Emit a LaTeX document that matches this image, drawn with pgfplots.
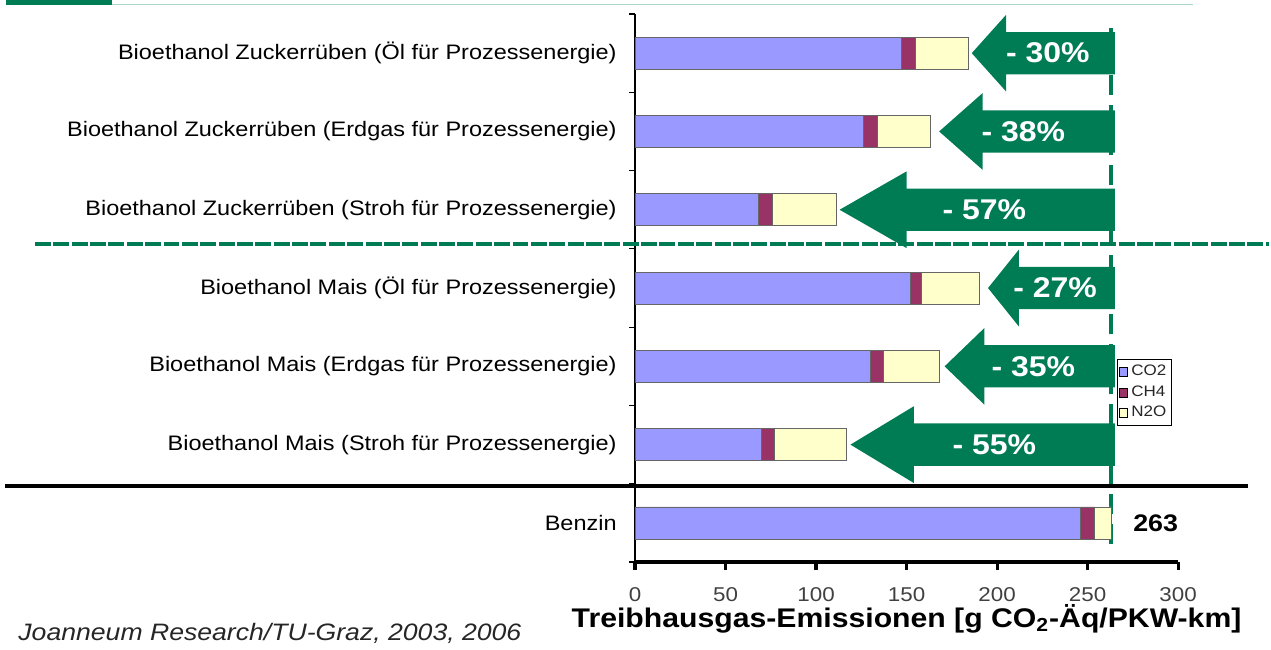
\documentclass[border=0pt]{standalone}
\usepackage{fontspec}
\setmainfont[FakeStretch=1.12]{Liberation Sans}
\usepackage{pgfplots}
\pgfplotsset{compat=1.18}
\definecolor{cotwo}{RGB}{153,153,255}
\definecolor{chfour}{RGB}{153,51,102}
\definecolor{ntwoo}{RGB}{255,255,204}
\definecolor{dgreen}{RGB}{0,124,84}
\definecolor{lgreen}{RGB}{170,214,196}
\pgfplotsset{
  smallbox legend/.style={legend image code/.code={\draw[##1, draw=black, line width=0.4pt] (0pt,-2.2pt) rectangle (3.6pt,2.2pt);}},
}
\tikzset{pct/.style={text=white, font=\fontsize{14.3}{16}\selectfont\bfseries}}
\begin{document}
\begin{tikzpicture}
\begin{axis}[
  scale only axis, width=272pt, height=274.5pt,
  xmin=0, xmax=300, ymin=-0.5, ymax=6.5,
  xbar stacked, bar width=16pt,
  axis x line*=bottom, axis y line*=left,
  x axis line style={line width=1.6pt},
  y axis line style={line width=0.6pt},
  xtick={0,50,...,300},
  xtick style={line width=1.6pt, black},
  ytick={0,...,6},
  yticklabels={Benzin,
    Bioethanol Mais (Stroh für Prozessenergie),
    Bioethanol Mais (Erdgas für Prozessenergie),
    Bioethanol Mais (Öl für Prozessenergie),
    Bioethanol Zuckerrüben (Stroh für Prozessenergie),
    Bioethanol Zuckerrüben (Erdgas für Prozessenergie),
    Bioethanol Zuckerrüben (Öl für Prozessenergie)},
  ytick style={draw=none},
  tick align=outside, major tick length=4pt,
  clip=false,
  /pgf/number format/assume math mode=true,
  x tick label style={font=\fontsize{10}{12}\selectfont, text=black!75, yshift=-5pt},
  y tick label style={font=\fontsize{10.5}{12}\selectfont, xshift=-1.7pt},
  xlabel={\bfseries Treibhausgas-Emissionen [g CO\textsubscript{2}-Äq/PKW-km]},
  xlabel style={font=\fontsize{13.5}{16}\selectfont, at={(axis description cs:0.5,0)}, anchor=center, yshift=-28.5pt},
  legend style={at={(axis cs:266.4,2.09)}, anchor=north west, font=\fontsize{7.6}{8}\selectfont,
    draw=black, line width=0.5pt, inner sep=0.8pt, row sep=-0.6pt, cells={anchor=west}, text=black!85},
  smallbox legend,
]
\addplot[fill=cotwo, draw=black!60, line width=0.4pt] coordinates {(246,0) (70,1) (130,2) (152,3) (68,4) (126,5) (147,6)};
\addplot[fill=chfour, draw=black!60, line width=0.4pt] coordinates {(8,0) (7,1) (7,2) (6,3) (8,4) (8,5) (8,6)};
\addplot[fill=ntwoo, draw=black!60, line width=0.4pt] coordinates {(9,0) (40,1) (31,2) (32,3) (35,4) (29,5) (29,6)};
\legend{CO2, CH4, N2O}
% y boundary ticks
\draw[line width=0.6pt] (axis cs:0,-0.5) -- ++(-3pt,0pt);
\draw[line width=0.6pt] (axis cs:0,0.5) -- ++(-3pt,0pt);
\draw[line width=0.6pt] (axis cs:0,1.5) -- ++(-3pt,0pt);
\draw[line width=0.6pt] (axis cs:0,2.5) -- ++(-3pt,0pt);
\draw[line width=0.6pt] (axis cs:0,3.5) -- ++(-3pt,0pt);
\draw[line width=0.6pt] (axis cs:0,4.5) -- ++(-3pt,0pt);
\draw[line width=0.6pt] (axis cs:0,5.5) -- ++(-3pt,0pt);
\draw[line width=0.6pt] (axis cs:0,6.5) -- ++(-3pt,0pt);
% reference line (Benzin)
\draw[dgreen, line width=2.3pt, dash pattern=on 10pt off 5pt] (axis cs:263,-0.27) -- (axis cs:263,6.32);
% reduction arrows with labels
\fill[dgreen] (axis cs:265,6.27) -- (axis cs:205,6.27) -- (axis cs:205,6.49) -- (axis cs:186,6) -- (axis cs:205,5.51) -- (axis cs:205,5.73) -- (axis cs:265,5.73) -- cycle
  (axis cs:228,6) node[pct] {- 30\%};
\fill[dgreen] (axis cs:265,5.27) -- (axis cs:192,5.27) -- (axis cs:192,5.49) -- (axis cs:168,5) -- (axis cs:192,4.51) -- (axis cs:192,4.73) -- (axis cs:265,4.73) -- cycle
  (axis cs:214.5,5) node[pct] {- 38\%};
\fill[dgreen] (axis cs:265,4.27) -- (axis cs:150,4.27) -- (axis cs:150,4.49) -- (axis cs:113,4) -- (axis cs:150,3.51) -- (axis cs:150,3.73) -- (axis cs:265,3.73) -- cycle
  (axis cs:193,4) node[pct] {- 57\%};
\fill[dgreen] (axis cs:265,3.27) -- (axis cs:212,3.27) -- (axis cs:212,3.49) -- (axis cs:195,3) -- (axis cs:212,2.51) -- (axis cs:212,2.73) -- (axis cs:265,2.73) -- cycle
  (axis cs:232,3) node[pct] {- 27\%};
\fill[dgreen] (axis cs:265,2.27) -- (axis cs:193,2.27) -- (axis cs:193,2.49) -- (axis cs:171,2) -- (axis cs:193,1.51) -- (axis cs:193,1.73) -- (axis cs:265,1.73) -- cycle
  (axis cs:220,2) node[pct] {- 35\%};
\fill[dgreen] (axis cs:265,1.27) -- (axis cs:154,1.27) -- (axis cs:154,1.49) -- (axis cs:119,1) -- (axis cs:154,0.51) -- (axis cs:154,0.73) -- (axis cs:265,0.73) -- cycle
  (axis cs:198.5,1) node[pct] {- 55\%};
% separators
\draw[dgreen, line width=2pt, dash pattern=on 8pt off 1.2pt] (axis cs:-331.5,3.567) -- (axis cs:350.2,3.567);
\draw[black, line width=1.8pt] (axis cs:-348,0.469) -- (axis cs:338.7,0.469);
% top decoration
\fill[dgreen] (axis cs:-347.5,6.61) rectangle (axis cs:-289,6.679);
\draw[lgreen, line width=0.6pt] (axis cs:-289,6.62) -- (axis cs:308,6.62);
% annotations
\node[font=\fontsize{12}{14}\selectfont\bfseries] at (axis cs:287.6,0) {263};
\node[anchor=west, font=\fontsize{11.9}{14}\selectfont\itshape, text=black!85] at (axis cs:-344.5,-1.405) {Joanneum Research/TU-Graz, 2003, 2006};
\path (axis cs:-350.8,-1.584) rectangle (axis cs:350.2,6.679);
\end{axis}
\end{tikzpicture}
\end{document}
